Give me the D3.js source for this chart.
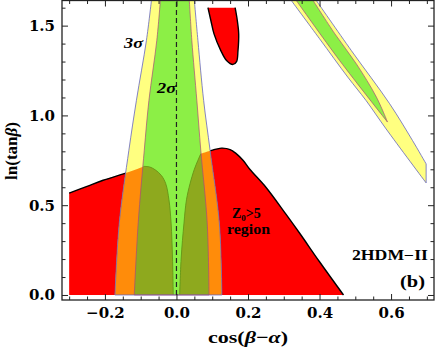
<!DOCTYPE html>
<html>
<head>
<meta charset="utf-8">
<script src="https://cdn.jsdelivr.net/npm/d3@7"></script>
<style>
  body { margin: 0; background: #fff; }
  svg { display: block; }
  text { font-family: "DejaVu Serif", serif; font-weight: bold; fill: #000; }
  text.lab { font-family: "Liberation Serif", "Times New Roman", serif; }
</style>
</head>
<body>
<div id="chart"></div>
<script>
// tick labels
var xMajor = [-0.2, 0.0, 0.2, 0.4, 0.6];
var yMajor = [0.0, 0.5, 1.0, 1.5];

// central band edges [cos(b-a), ln tanb]
var band3Left  = [[-0.172, 0], [-0.160, 0.4], [-0.133, 0.806], [-0.112, 1.083], [-0.084, 1.417], [-0.070, 1.64]];
var band3Right = [[0.127, 0], [0.120, 0.4], [0.094, 0.806], [0.076, 1.083], [0.060, 1.417], [0.050, 1.64]];
var band2Left  = [[-0.118, 0], [-0.107, 0.4], [-0.090, 0.806], [-0.077, 1.083], [-0.055, 1.417], [-0.045, 1.64]];
var band2Right = [[0.091, 0], [0.086, 0.4], [0.068, 0.806], [0.057, 1.083], [0.043, 1.417], [0.036, 1.64]];

// diagonal band in the upper right
var diag3Lower = [[0.321, 1.64], [0.40, 1.427], [0.479, 1.213], [0.530, 1.083], [0.586, 0.925], [0.698, 0.624]];
var diag3Upper = [[0.698, 0.73], [0.660, 0.86], [0.596, 1.065], [0.489, 1.361], [0.391, 1.64]];
var diag2Left  = [[0.335, 1.64], [0.456, 1.306], [0.590, 0.963]];
var diag2Right = [[0.590, 0.963], [0.559, 1.102], [0.503, 1.287], [0.443, 1.454], [0.382, 1.64]];

// Z0 > 5 region
var redTopLeft  = [[-0.30, 0.567], [-0.25, 0.605], [-0.205, 0.639], [-0.14, 0.68], [-0.092, 0.716]];
var holeLeft    = [[-0.092, 0.716], [-0.075, 0.713], [-0.058, 0.695], [-0.042, 0.665], [-0.030, 0.62], [-0.021, 0.53], [-0.015, 0.40], [-0.011, 0.2], [-0.009, 0]];
var holeRight   = [[0.009, 0], [0.013, 0.2], [0.021, 0.40], [0.028, 0.53], [0.038, 0.62], [0.050, 0.70], [0.060, 0.75], [0.068, 0.786]];
var redTopRight = [[0.068, 0.786], [0.09, 0.80], [0.126, 0.818], [0.15, 0.81], [0.167, 0.787], [0.186, 0.75], [0.205, 0.70], [0.25, 0.60], [0.306, 0.45], [0.344, 0.345], [0.40, 0.185], [0.467, 0]];
var redBottom   = [[0.467, 0], [-0.30, 0]];
var blob = [[0.088, 1.6], [0.096, 1.53], [0.105, 1.454], [0.124, 1.361], [0.140, 1.306], [0.158, 1.284], [0.168, 1.30], [0.172, 1.361], [0.174, 1.454], [0.170, 1.53], [0.164, 1.6]];

var width = 436, height = 349;

var x = d3.scaleLinear().domain([-0.32, 0.72]).range([62, 434]);
var y = d3.scaleLinear().domain([-0.028, 1.64]).range([300, 0.5]);

var curve = d3.line()
  .x(d => x(d[0]))
  .y(d => y(d[1]))
  .curve(d3.curveCatmullRom.alpha(0.5));

// join several edges into one path, corners kept sharp
function shape(parts, close) {
  var s = parts.map((p, i) => {
    var d = curve(p);
    return i ? 'L' + d.slice(1) : d;
  }).join('');
  return close ? s + 'Z' : s;
}

var svg = d3.select("#chart").append("svg")
  .attr("width", width)
  .attr("height", height);

var defs = svg.append("defs");
defs.append("clipPath").attr("id", "plotClip")
  .append("rect")
  .attr("x", x.range()[0]).attr("y", y.range()[1])
  .attr("width", x.range()[1] - x.range()[0])
  .attr("height", y.range()[0] - y.range()[1]);

var redPath = shape([redTopLeft, holeLeft, holeRight, redTopRight, redBottom], true);
defs.append("clipPath").attr("id", "redClip")
  .append("path").attr("d", redPath);

var band3Path = shape([band3Left, band3Right.slice().reverse()], true);
var band2Path = shape([band2Left, band2Right.slice().reverse()], true);
var diag3Path = shape([diag3Lower, diag3Upper], true);
var diag2Path = shape([diag2Left, diag2Right], true);

var plot = svg.append("g").attr("clip-path", "url(#plotClip)");

// red regions
plot.append("path").attr("d", redPath).attr("fill", "#ff0000");
plot.append("path").attr("d", shape([blob], true)).attr("fill", "#ff0000");
plot.append("path").attr("d", curve(blob))
  .attr("fill", "none").attr("stroke", "#000").attr("stroke-width", 1.4);
plot.append("path").attr("d", curve(redTopLeft))
  .attr("fill", "none").attr("stroke", "#000").attr("stroke-width", 1.4);
plot.append("path").attr("d", curve(redTopRight))
  .attr("fill", "none").attr("stroke", "#000").attr("stroke-width", 1.4);

// 3 sigma and 2 sigma bands
plot.append("path").attr("d", band3Path).attr("fill", "#ffff80");
plot.append("path").attr("d", diag3Path).attr("fill", "#ffff80");
plot.append("path").attr("d", band2Path).attr("fill", "#8cef46");
plot.append("path").attr("d", diag2Path).attr("fill", "#8cef46");

// overlap with the red region
plot.append("path").attr("d", band3Path).attr("fill", "#ff8c0a").attr("clip-path", "url(#redClip)");
plot.append("path").attr("d", band2Path).attr("fill", "#8ea91e").attr("clip-path", "url(#redClip)");
plot.append("path").attr("d", curve(holeLeft))
  .attr("fill", "none").attr("stroke", "#5d9a1a").attr("stroke-width", 0.9);
plot.append("path").attr("d", curve(holeRight))
  .attr("fill", "none").attr("stroke", "#5d9a1a").attr("stroke-width", 0.9);

// band outlines
[band3Path, diag3Path].forEach(d => {
  plot.append("path").attr("d", d)
    .attr("fill", "none").attr("stroke", "#6464c0").attr("stroke-width", 0.8);
});
[band2Path, diag2Path].forEach(d => {
  plot.append("path").attr("d", d)
    .attr("fill", "none").attr("stroke", "#a84a7c").attr("stroke-width", 0.7);
});

// SM line
plot.append("path").attr("d", d3.line().x(d => x(d[0])).y(d => y(d[1]))([[0, 0], [0, 1.64]]))
  .attr("fill", "none").attr("stroke", "#222")
  .attr("stroke-width", 1.2).attr("stroke-dasharray", "5,3");

// frame and ticks
var fmt = d3.format(".1f");
var xMinor = d3.range(-0.30, 0.701, 0.05).filter(v => !xMajor.some(m => Math.abs(m - v) < 1e-6));
var yMinor = d3.range(0, 1.601, 0.1).filter(v => !yMajor.some(m => Math.abs(m - v) < 1e-6));

function styleAxis(g, size) {
  g.select(".domain").remove();
  g.selectAll(".tick line").attr("stroke", "#222").attr("stroke-width", 1);
  g.selectAll("text")
    .attr("font-family", '"DejaVu Serif", serif')
    .attr("font-weight", "bold")
    .attr("font-size", size)
    .attr("fill", "#000");
}

svg.append("g").attr("transform", "translate(0,300)")
  .call(d3.axisBottom(x).tickValues(xMajor).tickSize(-6).tickPadding(7).tickFormat(fmt))
  .call(g => styleAxis(g, 15));
svg.append("g").attr("transform", "translate(0,300)")
  .call(d3.axisBottom(x).tickValues(xMinor).tickSize(-3.5).tickFormat(""))
  .call(g => styleAxis(g, 15));
svg.append("g").attr("transform", "translate(0,0.5)")
  .call(d3.axisTop(x).tickValues(xMajor).tickSize(-6).tickFormat(""))
  .call(g => styleAxis(g, 15));
svg.append("g").attr("transform", "translate(0,0.5)")
  .call(d3.axisTop(x).tickValues(xMinor).tickSize(-3.5).tickFormat(""))
  .call(g => styleAxis(g, 15));

svg.append("g").attr("transform", "translate(62,0)")
  .call(d3.axisLeft(y).tickValues(yMajor).tickSize(-6).tickPadding(7).tickFormat(fmt))
  .call(g => styleAxis(g, 15));
svg.append("g").attr("transform", "translate(62,0)")
  .call(d3.axisLeft(y).tickValues(yMinor).tickSize(-3.5).tickFormat(""))
  .call(g => styleAxis(g, 15));
svg.append("g").attr("transform", "translate(434,0)")
  .call(d3.axisRight(y).tickValues(yMajor).tickSize(-6).tickFormat(""))
  .call(g => styleAxis(g, 15));
svg.append("g").attr("transform", "translate(434,0)")
  .call(d3.axisRight(y).tickValues(yMinor).tickSize(-3.5).tickFormat(""))
  .call(g => styleAxis(g, 15));

svg.append("rect")
  .attr("x", 62).attr("y", 0.5)
  .attr("width", 372).attr("height", 299.5)
  .attr("fill", "none").attr("stroke", "#222").attr("stroke-width", 1.3);

// axis titles
var xt = svg.append("text").attr("class", "lab")
  .attr("x", 248).attr("y", 343)
  .attr("text-anchor", "middle").attr("font-size", 17)
  .attr("textLength", 80).attr("lengthAdjust", "spacingAndGlyphs");
xt.append("tspan").text("cos(");
xt.append("tspan").attr("font-style", "italic").text("β");
xt.append("tspan").text("−");
xt.append("tspan").attr("font-style", "italic").text("α");
xt.append("tspan").text(")");

var yt = svg.append("text").attr("class", "lab")
  .attr("transform", "translate(17,151) rotate(-90)")
  .attr("text-anchor", "middle").attr("font-size", 17)
  .attr("textLength", 58).attr("lengthAdjust", "spacingAndGlyphs");
yt.append("tspan").text("ln(tan");
yt.append("tspan").attr("font-style", "italic").text("β");
yt.append("tspan").text(")");

// annotations
svg.append("text").attr("class", "lab").attr("x", 124).attr("y", 48)
  .attr("font-size", 15).attr("font-style", "italic")
  .attr("textLength", 19).attr("lengthAdjust", "spacingAndGlyphs").text("3σ");
svg.append("text").attr("class", "lab").attr("x", 157).attr("y", 93)
  .attr("font-size", 15).attr("font-style", "italic")
  .attr("textLength", 19).attr("lengthAdjust", "spacingAndGlyphs").text("2σ");

var zt = svg.append("text").attr("class", "lab").attr("x", 232).attr("y", 218).attr("font-size", 14);
zt.append("tspan").text("Z");
zt.append("tspan").attr("font-size", 9).attr("dy", 3).text("0");
zt.append("tspan").attr("dy", -3).text(">5");
svg.append("text").attr("class", "lab").attr("x", 227).attr("y", 234).attr("font-size", 14)
  .attr("textLength", 43).attr("lengthAdjust", "spacingAndGlyphs").text("region");

svg.append("text").attr("class", "lab").attr("x", 352).attr("y", 260).attr("font-size", 14)
  .attr("textLength", 76).attr("lengthAdjust", "spacingAndGlyphs").text("2HDM−II");
svg.append("text").attr("class", "lab").attr("x", 400).attr("y", 287).attr("font-size", 17)
  .attr("textLength", 25).attr("lengthAdjust", "spacingAndGlyphs").text("(b)");
</script>
</body>
</html>
